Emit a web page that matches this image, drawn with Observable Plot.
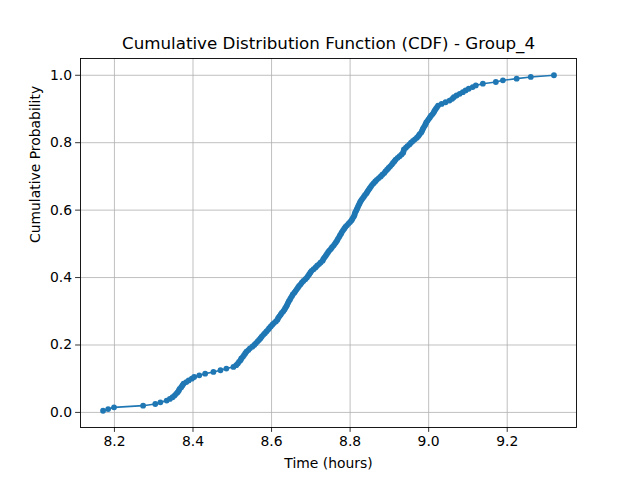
<!DOCTYPE html>
<html>
<head>
<meta charset="utf-8">
<script src="https://cdn.jsdelivr.net/npm/d3@7"></script>
<script src="https://cdn.jsdelivr.net/npm/@observablehq/plot@0.6"></script>
<style>
  html, body { margin: 0; padding: 0; background: white; }
</style>
</head>
<body>
<div id="chart"></div>
<script>
const title = "Cumulative Distribution Function (CDF) - Group_4";
const xLabel = "Time (hours)";
const yLabel = "Cumulative Probability";
const xTicks = [8.2, 8.4, 8.6, 8.8, 9.0, 9.2];
const yTicks = [0.0, 0.2, 0.4, 0.6, 0.8, 1.0];

const times = [
  8.171, 8.184, 8.199, 8.273, 8.304, 8.317, 8.333, 8.341, 8.348, 8.353,
  8.357, 8.361, 8.364, 8.366, 8.370, 8.373, 8.376, 8.383, 8.389, 8.397,
  8.403, 8.416, 8.431, 8.452, 8.470, 8.485, 8.503, 8.510, 8.514, 8.517,
  8.521, 8.523, 8.527, 8.530, 8.533, 8.536, 8.541, 8.545, 8.551, 8.556,
  8.560, 8.564, 8.568, 8.572, 8.575, 8.579, 8.583, 8.587, 8.591, 8.594,
  8.598, 8.602, 8.606, 8.611, 8.615, 8.617, 8.620, 8.623, 8.626, 8.630,
  8.633, 8.635, 8.638, 8.640, 8.642, 8.644, 8.647, 8.649, 8.652, 8.654,
  8.658, 8.661, 8.664, 8.667, 8.670, 8.674, 8.677, 8.681, 8.686, 8.690,
  8.693, 8.696, 8.699, 8.702, 8.707, 8.712, 8.716, 8.721, 8.725, 8.730,
  8.732, 8.735, 8.738, 8.741, 8.744, 8.747, 8.751, 8.754, 8.758, 8.761,
  8.764, 8.767, 8.769, 8.772, 8.774, 8.777, 8.779, 8.782, 8.785, 8.788,
  8.792, 8.796, 8.800, 8.804, 8.806, 8.809, 8.811, 8.812, 8.814, 8.816,
  8.818, 8.820, 8.822, 8.824, 8.826, 8.829, 8.832, 8.835, 8.838, 8.842,
  8.844, 8.847, 8.850, 8.853, 8.856, 8.860, 8.864, 8.868, 8.873, 8.878,
  8.882, 8.887, 8.890, 8.894, 8.898, 8.902, 8.906, 8.909, 8.913, 8.916,
  8.921, 8.926, 8.931, 8.935, 8.936, 8.937, 8.942, 8.946, 8.951, 8.955,
  8.960, 8.965, 8.970, 8.974, 8.977, 8.981, 8.983, 8.985, 8.987, 8.990,
  8.992, 8.994, 8.997, 9.000, 9.003, 9.006, 9.010, 9.013, 9.015, 9.018,
  9.021, 9.024, 9.033, 9.043, 9.053, 9.060, 9.064, 9.071, 9.079, 9.087,
  9.094, 9.102, 9.112, 9.120, 9.138, 9.171, 9.189, 9.224, 9.260, 9.319
];

const n = times.length;
const data = times.map((t, i) => ({t, p: (i + 1) / n}));

const xMin = d3.min(times), xMax = d3.max(times);
const xPad = (xMax - xMin) * 0.05;
const yMin = 1 / n, yMax = 1;
const yPad = (yMax - yMin) * 0.05;

const fmt = d3.format(".1f");
const gridStyle = {stroke: "#b0b0b0", strokeOpacity: 1, strokeWidth: 0.8};

const chart = Plot.plot({
  width: 640,
  height: 480,
  marginLeft: 80,
  marginRight: 64,
  marginTop: 58,
  marginBottom: 53,
  style: {fontFamily: "DejaVu Sans", fontSize: "13.9px", background: "white", color: "black"},
  x: {domain: [xMin - xPad, xMax + xPad]},
  y: {domain: [yMin - yPad, yMax + yPad]},
  marks: [
    Plot.gridX(xTicks, gridStyle),
    Plot.gridY(yTicks, gridStyle),
    Plot.line(data, {x: "t", y: "p", stroke: "#1f77b4", strokeWidth: 1.6}),
    Plot.dot(data, {x: "t", y: "p", r: 2.9, fill: "#1f77b4", stroke: "none"}),
    Plot.frame({stroke: "black", strokeWidth: 0.9}),
    Plot.axisX(xTicks, {tickSize: 4.9, tickPadding: 3.5, tickFormat: fmt, label: null, fontSize: 13.9, stroke: "black", strokeWidth: 0.8}),
    Plot.axisY(yTicks, {tickSize: 4.9, tickPadding: 3.5, tickFormat: fmt, label: null, fontSize: 13.9, stroke: "black", strokeWidth: 0.8}),
    Plot.text([title], {frameAnchor: "top", dy: -15, lineAnchor: "middle", fontSize: 16.7, fill: "black"}),
    Plot.text([xLabel], {frameAnchor: "bottom", dy: 36, lineAnchor: "middle", fontSize: 13.9, fill: "black"}),
    Plot.text([yLabel], {frameAnchor: "left", dx: -45, rotate: -90, lineAnchor: "middle", fontSize: 13.9, fill: "black"})
  ]
});

document.getElementById("chart").appendChild(chart);
</script>
</body>
</html>
